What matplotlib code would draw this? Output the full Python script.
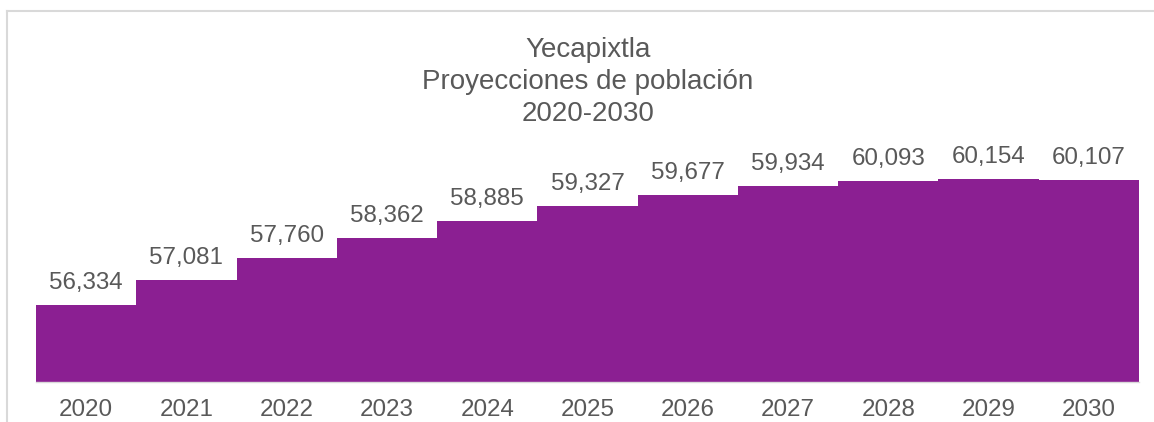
import matplotlib.pyplot as plt
from matplotlib.lines import Line2D

# data
years = ['2020', '2021', '2022', '2023', '2024', '2025', '2026', '2027', '2028', '2029', '2030']
population = [56334, 57081, 57760, 58362, 58885, 59327, 59677, 59934, 60093, 60154, 60107]

plt.rcParams['font.family'] = ['Liberation Sans', 'DejaVu Sans']
text_color = '#595959'
bar_color = '#8B1F92'

fig = plt.figure(figsize=(11.54, 4.22), dpi=100)
ax = fig.add_axes([0.0312, 0.0948, 0.9558, 0.6256])

x = range(len(years))
ax.bar(x, population, width=1.0, color=bar_color, bottom=0)
ax.set_ylim(54000, 62000)
ax.set_xlim(-0.5, len(years) - 0.5)

for xi, v in zip(x, population):
    ax.annotate(f'{v:,}', (xi, v), xytext=(0, 11.5), textcoords='offset points',
                ha='center', va='baseline', fontsize=17.4, color=text_color)

ax.set_xticks(list(x))
ax.set_xticklabels(years, fontsize=17.4, color=text_color)
ax.tick_params(axis='x', length=0, pad=12.5)
ax.set_yticks([])
for side in ['top', 'right', 'left']:
    ax.spines[side].set_visible(False)
ax.spines['bottom'].set_color('#d9d9d9')
ax.spines['bottom'].set_linewidth(1)

fig.text(588 / 1154, 1 - 82 / 422, 'Yecapixtla\nProyecciones de población\n2020-2030',
         ha='center', va='center', fontsize=20, color=text_color, linespacing=1.32)

# light frame around the chart (left and top edges visible)
fig.add_artist(Line2D([7 / 1154, 7 / 1154], [0, 1 - 11 / 422], color='#d9d9d9', lw=1.5))
fig.add_artist(Line2D([7 / 1154, 1], [1 - 11 / 422, 1 - 11 / 422], color='#d9d9d9', lw=1.5))

fig.savefig('out.png', dpi=100)
